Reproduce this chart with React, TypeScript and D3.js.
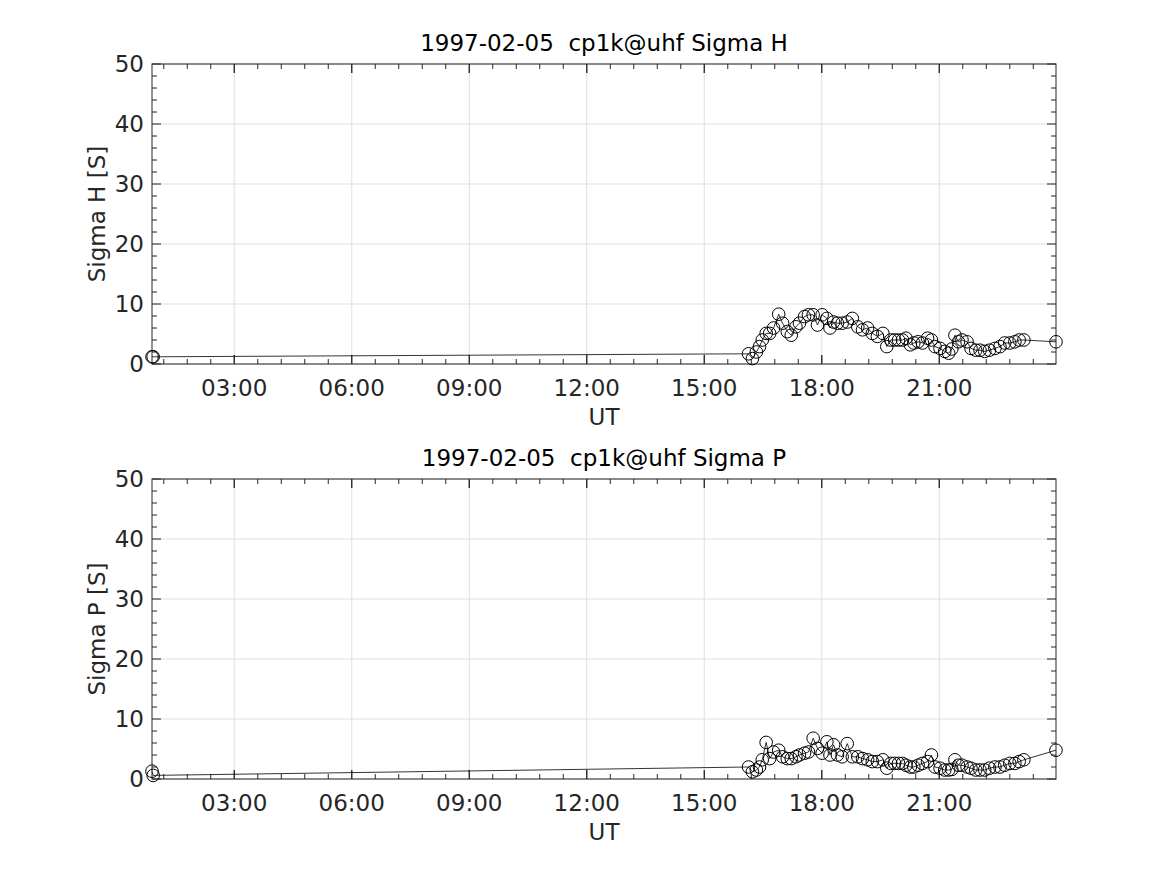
import React, { useEffect, useRef } from "react";
import * as d3 from "d3";

const times = [0.90, 0.93, 16.13, 16.23, 16.33, 16.41, 16.48, 16.58, 16.67, 16.77, 16.90, 17.00, 17.12, 17.22, 17.34, 17.43, 17.56, 17.66, 17.78, 17.89, 18.01, 18.13, 18.21, 18.30, 18.40, 18.52, 18.65, 18.78, 18.92, 19.04, 19.17, 19.29, 19.42, 19.56, 19.66, 19.76, 19.86, 19.96, 20.06, 20.15, 20.26, 20.35, 20.46, 20.57, 20.70, 20.80, 20.89, 21.02, 21.14, 21.24, 21.32, 21.40, 21.49, 21.58, 21.71, 21.81, 21.93, 22.04, 22.16, 22.28, 22.42, 22.55, 22.67, 22.80, 22.93, 23.04, 23.16, 23.98];

const sigmaH = [1.2, 1.2, 1.7, 0.9, 2.0, 2.9, 4.0, 5.1, 5.1, 6.0, 8.3, 6.8, 5.4, 4.8, 6.2, 6.8, 7.9, 8.2, 8.2, 6.5, 8.2, 7.6, 6.0, 7.0, 6.8, 6.8, 7.0, 7.6, 6.2, 5.7, 6.0, 5.1, 4.6, 5.1, 2.9, 4.0, 4.0, 4.0, 4.0, 4.3, 3.2, 3.5, 3.7, 3.5, 4.3, 4.0, 2.9, 2.6, 2.1, 1.8, 2.5, 4.8, 3.7, 4.0, 3.7, 2.6, 2.3, 2.3, 2.1, 2.3, 2.6, 2.9, 3.5, 3.5, 3.7, 4.0, 4.0, 3.7];

const sigmaP = [1.3, 0.6, 2.0, 1.2, 1.5, 2.0, 3.2, 6.1, 3.4, 4.5, 4.8, 3.7, 3.4, 3.4, 3.7, 4.0, 4.3, 4.5, 6.8, 5.1, 4.3, 6.2, 4.0, 5.7, 4.0, 3.7, 5.9, 3.7, 3.7, 3.4, 3.2, 2.9, 2.9, 3.2, 1.8, 2.6, 2.6, 2.6, 2.6, 2.3, 2.0, 2.0, 2.3, 2.6, 2.9, 4.0, 2.0, 1.8, 1.5, 1.5, 1.6, 3.2, 2.3, 2.3, 2.0, 1.8, 1.5, 1.5, 1.5, 1.8, 2.0, 2.0, 2.3, 2.6, 2.6, 2.9, 3.2, 4.8];

const xTickHours = [3, 6, 9, 12, 15, 18, 21];
const yTicks = [0, 10, 20, 30, 40, 50];
const panelTitles = ["1997-02-05  cp1k@uhf Sigma H", "1997-02-05  cp1k@uhf Sigma P"];
const yLabels = ["Sigma H [S]", "Sigma P [S]"];
const xLabel = "UT";

const W = 1167;
const H = 875;
const FONT = "DejaVu Sans, sans-serif";
const FS = 23;
const TXT = "#262626";

export default function App() {
  const ref = useRef<SVGSVGElement | null>(null);

  useEffect(() => {
    const svg = d3.select(ref.current);
    svg.selectAll("*").remove();
    const left = 152, right = 1056;
    const panels = [
      { top: 64, bottom: 364, data: sigmaH },
      { top: 479, bottom: 779, data: sigmaP },
    ];
    const ext = d3.extent(times) as [number, number];
    const x = d3.scaleLinear().domain(ext).range([left, right]);

    panels.forEach((p, i) => {
      const y = d3.scaleLinear().domain([0, 50]).range([p.bottom, p.top]);
      const g = svg.append("g");
      g.append("rect").attr("x", left).attr("y", p.top).attr("width", right - left).attr("height", p.bottom - p.top).attr("fill", "white");
      // grid
      xTickHours.forEach((h) => {
        g.append("line").attr("x1", x(h)).attr("x2", x(h)).attr("y1", p.top).attr("y2", p.bottom)
          .attr("stroke", "#dfdfdf").attr("stroke-width", 1);
      });
      yTicks.forEach((v) => {
        g.append("line").attr("x1", left).attr("x2", right).attr("y1", y(v)).attr("y2", y(v))
          .attr("stroke", "#dfdfdf").attr("stroke-width", 1);
      });
      // minor x ticks
      const minorX: number[] = [];
      for (let k = 0; k * 0.6 <= ext[1] + 1e-9; k++) {
        const h = k * 0.6;
        if (h >= ext[0]) minorX.push(h);
      }
      minorX.forEach((h) => {
        const isMajor = xTickHours.some((m) => Math.abs(m - h) < 1e-6);
        const len = isMajor ? 9 : 5;
        g.append("line").attr("x1", x(h)).attr("x2", x(h)).attr("y1", p.bottom).attr("y2", p.bottom - len).attr("stroke", TXT);
        g.append("line").attr("x1", x(h)).attr("x2", x(h)).attr("y1", p.top).attr("y2", p.top + len).attr("stroke", TXT);
      });
      xTickHours.forEach((h) => {
        g.append("line").attr("x1", x(h)).attr("x2", x(h)).attr("y1", p.bottom).attr("y2", p.bottom - 9).attr("stroke", TXT);
        g.append("line").attr("x1", x(h)).attr("x2", x(h)).attr("y1", p.top).attr("y2", p.top + 9).attr("stroke", TXT);
        g.append("text").attr("x", x(h)).attr("y", p.bottom + 32).attr("text-anchor", "middle")
          .attr("font-family", FONT).attr("font-size", FS).attr("fill", TXT)
          .text(String(h).padStart(2, "0") + ":00");
      });
      // y ticks
      for (let v = 0; v <= 50; v += 2) {
        const major = v % 10 === 0;
        const len = major ? 9 : 5;
        g.append("line").attr("x1", left).attr("x2", left + len).attr("y1", y(v)).attr("y2", y(v)).attr("stroke", TXT);
        g.append("line").attr("x1", right).attr("x2", right - len).attr("y1", y(v)).attr("y2", y(v)).attr("stroke", TXT);
      }
      yTicks.forEach((v) => {
        g.append("text").attr("x", left - 8).attr("y", y(v) + 8).attr("text-anchor", "end")
          .attr("font-family", FONT).attr("font-size", FS).attr("fill", TXT).text(String(v));
      });
      // box
      g.append("rect").attr("x", left).attr("y", p.top).attr("width", right - left).attr("height", p.bottom - p.top)
        .attr("fill", "none").attr("stroke", TXT).attr("stroke-width", 1);
      // data
      const pts = times.map((t, j) => [t, p.data[j]] as [number, number]);
      const line = d3.line<[number, number]>().x((d) => x(d[0])).y((d) => y(d[1]));
      g.append("path").attr("d", line(pts) as string).attr("fill", "none").attr("stroke", "black").attr("stroke-width", 0.8);
      g.selectAll("circle.m").data(pts).enter().append("circle")
        .attr("cx", (d) => x(d[0])).attr("cy", (d) => y(d[1])).attr("r", 6.3)
        .attr("fill", "none").attr("stroke", "black").attr("stroke-width", 1);
      // labels
      g.append("text").attr("x", (left + right) / 2).attr("y", p.top - 13).attr("text-anchor", "middle")
        .style("white-space", "pre")
        .attr("font-family", FONT).attr("font-size", FS).attr("fill", "black").text(panelTitles[i]);
      g.append("text").attr("x", (left + right) / 2).attr("y", p.bottom + 61).attr("text-anchor", "middle")
        .attr("font-family", FONT).attr("font-size", FS).attr("fill", TXT).text(xLabel);
      g.append("text").attr("transform", `translate(${105},${(p.top + p.bottom) / 2}) rotate(-90)`)
        .attr("text-anchor", "middle").attr("font-family", FONT).attr("font-size", FS).attr("fill", TXT).text(yLabels[i]);
    });
  }, []);

  return (
    <svg ref={ref} width={W} height={H} style={{ position: "absolute", left: 0, top: 0, background: "white" }} />
  );
}
